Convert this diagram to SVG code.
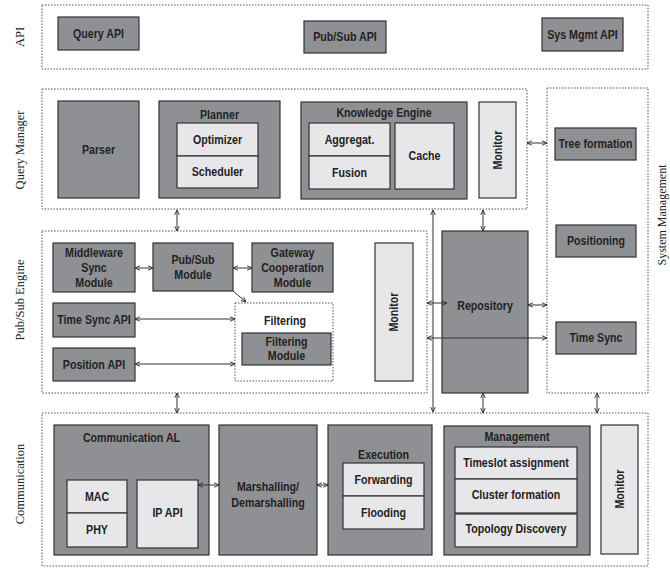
<svg xmlns="http://www.w3.org/2000/svg" width="670" height="568" viewBox="0 0 670 568">
<defs>
<marker id="ah" viewBox="0 0 8 8" refX="7.5" refY="4" markerWidth="6" markerHeight="6" markerUnits="userSpaceOnUse" orient="auto-start-reverse">
<path d="M1,1 L7.5,4 L1,7" fill="none" stroke="#333" stroke-width="1.3"/>
</marker>
<style>
.band{fill:none;stroke:#555;stroke-width:1;stroke-dasharray:1.5 1.5}
.dk{fill:#8f9093;stroke:#333;stroke-width:1.2}
.lt{fill:#e7e7e9;stroke:#333;stroke-width:1.2}
.t{font-family:"Liberation Sans",Arial,sans-serif;font-weight:bold;font-size:13px;fill:#222;text-anchor:middle;dominant-baseline:central}
.lab{font-family:"Liberation Serif","Times New Roman",serif;font-size:12.5px;fill:#222;text-anchor:middle;dominant-baseline:central}
.c{fill:none;stroke:#333;stroke-width:1;marker-start:url(#ah);marker-end:url(#ah)}
</style>
</defs>

<g id="labels">
<text class="lab" transform="translate(20,37) rotate(-90)">API</text>
<text class="lab" transform="translate(20,150) rotate(-90)">Query Manager</text>
<text class="lab" transform="translate(20,300) rotate(-90)">Pub/Sub Engine</text>
<text class="lab" transform="translate(20,484) rotate(-90)">Communication</text>
<text class="lab" transform="translate(662,215) rotate(-90)" style="font-size:12px">System Management</text>
</g>

<g id="bands">
<rect class="band" x="42" y="5" width="606" height="64"/>
<rect class="band" x="42" y="89" width="485" height="120"/>
<rect class="band" x="547" y="88" width="101" height="305"/>
<rect class="band" x="42" y="231" width="385" height="162"/>
<rect class="band" x="42" y="413" width="606" height="153"/>
</g>

<g id="query-api"><rect class="dk" x="58" y="17" width="81" height="33"/><text class="t" transform="translate(98.5,33.5) scale(0.82,1)">Query API</text></g>
<g id="pubsub-api"><rect class="dk" x="304" y="21" width="82" height="32"/><text class="t" transform="translate(345,37) scale(0.82,1)">Pub/Sub API</text></g>
<g id="sysmgmt-api"><rect class="dk" x="542" y="18" width="81" height="33"/><text class="t" transform="translate(582.5,34.5) scale(0.82,1)">Sys Mgmt API</text></g>

<g id="parser"><rect class="dk" x="58" y="101" width="81" height="97"/><text class="t" transform="translate(98.5,149.5) scale(0.82,1)">Parser</text></g>
<g id="planner"><rect class="dk" x="159" y="101" width="121" height="97"/><text class="t" transform="translate(219.5,115) scale(0.82,1)">Planner</text>
<rect class="lt" x="177" y="123" width="81" height="33"/><text class="t" transform="translate(217.5,139.5) scale(0.82,1)">Optimizer</text>
<rect class="lt" x="177" y="156" width="81" height="32"/><text class="t" transform="translate(217.5,172) scale(0.82,1)">Scheduler</text></g>
<g id="knowledge-engine"><rect class="dk" x="301" y="102" width="166" height="97"/><text class="t" transform="translate(384,113) scale(0.82,1)">Knowledge Engine</text>
<rect class="lt" x="309" y="123" width="81" height="33"/><text class="t" transform="translate(349.5,139.5) scale(0.82,1)">Aggregat.</text>
<rect class="lt" x="309" y="156" width="81" height="33"/><text class="t" transform="translate(349.5,172.5) scale(0.82,1)">Fusion</text>
<rect class="lt" x="395" y="123" width="59" height="66"/><text class="t" transform="translate(424.5,156) scale(0.82,1)">Cache</text></g>
<g id="monitor-qm"><rect class="lt" x="479" y="102" width="37" height="96"/><text class="t" transform="translate(497.5,150) rotate(-90) scale(0.82,1)">Monitor</text></g>

<g id="tree-formation"><rect class="dk" x="555" y="128" width="81" height="32"/><text class="t" transform="translate(595.5,144) scale(0.82,1)">Tree formation</text></g>
<g id="positioning"><rect class="dk" x="556" y="225" width="80" height="32"/><text class="t" transform="translate(596,241) scale(0.82,1)">Positioning</text></g>
<g id="time-sync"><rect class="dk" x="556" y="322" width="80" height="32"/><text class="t" transform="translate(596,338) scale(0.82,1)">Time Sync</text></g>

<g id="middleware-sync"><rect class="dk" x="53" y="243" width="82" height="49"/>
<text class="t" transform="translate(94,253) scale(0.82,1)">Middleware</text><text class="t" transform="translate(94,268) scale(0.82,1)">Sync</text><text class="t" transform="translate(94,283) scale(0.82,1)">Module</text></g>
<g id="pubsub-module"><rect class="dk" x="153" y="243" width="80" height="48"/>
<text class="t" transform="translate(193,260) scale(0.82,1)">Pub/Sub</text><text class="t" transform="translate(193,275) scale(0.82,1)">Module</text></g>
<g id="gateway"><rect class="dk" x="252" y="243" width="81" height="49"/>
<text class="t" transform="translate(292.5,253) scale(0.82,1)">Gateway</text><text class="t" transform="translate(292.5,268) scale(0.82,1)">Cooperation</text><text class="t" transform="translate(292.5,283) scale(0.82,1)">Module</text></g>
<g id="time-sync-api"><rect class="dk" x="53" y="303" width="82" height="34"/><text class="t" transform="translate(94,320) scale(0.82,1)">Time Sync API</text></g>
<g id="position-api"><rect class="dk" x="53" y="348" width="82" height="33"/><text class="t" transform="translate(94,364.5) scale(0.82,1)">Position API</text></g>
<g id="filtering"><rect class="band" x="235" y="303" width="98" height="78"/><text class="t" transform="translate(285,321) scale(0.82,1)">Filtering</text>
<rect class="dk" x="242" y="333" width="89" height="32"/><text class="t" transform="translate(286.5,342) scale(0.82,1)">Filtering</text><text class="t" transform="translate(286.5,356) scale(0.82,1)">Module</text></g>
<g id="monitor-ps"><rect class="lt" x="375" y="243" width="38" height="138"/><text class="t" transform="translate(394,312) rotate(-90) scale(0.82,1)">Monitor</text></g>
<g id="repository"><rect class="dk" x="442" y="231" width="86" height="162"/><text class="t" transform="translate(485,306) scale(0.82,1)">Repository</text></g>

<g id="communication-al"><rect class="dk" x="54" y="425" width="155" height="130"/><text class="t" transform="translate(131.5,438) scale(0.82,1)">Communication AL</text>
<rect class="lt" x="67" y="480" width="60" height="33"/><text class="t" transform="translate(97,497) scale(0.82,1)">MAC</text>
<rect class="lt" x="67" y="513" width="60" height="34"/><text class="t" transform="translate(97,530) scale(0.82,1)">PHY</text>
<rect class="lt" x="137" y="480" width="61" height="68"/><text class="t" transform="translate(167.5,513) scale(0.82,1)">IP API</text></g>
<g id="marshalling"><rect class="dk" x="219" y="425" width="98" height="130"/>
<text class="t" transform="translate(268,487) scale(0.82,1)">Marshalling/</text><text class="t" transform="translate(268,503) scale(0.82,1)">Demarshalling</text></g>
<g id="execution"><rect class="dk" x="328" y="425" width="104" height="130"/><text class="t" transform="translate(383.5,455) scale(0.82,1)">Execution</text>
<rect class="lt" x="343" y="463" width="81" height="33"/><text class="t" transform="translate(383.5,479.5) scale(0.82,1)">Forwarding</text>
<rect class="lt" x="343" y="496" width="81" height="33"/><text class="t" transform="translate(383.5,513) scale(0.82,1)">Flooding</text></g>
<g id="management"><rect class="dk" x="444" y="426" width="146" height="129"/><text class="t" transform="translate(517,437) scale(0.82,1)">Management</text>
<rect class="lt" x="455" y="447" width="122" height="32"/><text class="t" transform="translate(516,463) scale(0.82,1)">Timeslot assignment</text>
<rect class="lt" x="455" y="479" width="122" height="34"/><text class="t" transform="translate(516,495) scale(0.82,1)">Cluster formation</text>
<rect class="lt" x="455" y="514" width="122" height="33"/><text class="t" transform="translate(516,529) scale(0.82,1)">Topology Discovery</text></g>
<g id="monitor-comm"><rect class="lt" x="601" y="425" width="37" height="129"/><text class="t" transform="translate(619.5,489) rotate(-90) scale(0.82,1)">Monitor</text></g>

<g id="connectors">
<line class="c" x1="177" y1="210" x2="177" y2="231"/>
<line class="c" x1="433" y1="210" x2="433" y2="412"/>
<line class="c" x1="483" y1="210" x2="483" y2="231"/>
<line class="c" x1="527" y1="143" x2="547" y2="143"/>
<line class="c" x1="135" y1="268" x2="153" y2="268"/>
<line class="c" x1="233" y1="268" x2="252" y2="268"/>
<line x1="233" y1="291" x2="246" y2="302" fill="none" stroke="#333" stroke-width="1" marker-end="url(#ah)"/>
<line class="c" x1="135" y1="319" x2="235" y2="319"/>
<line class="c" x1="135" y1="364" x2="235" y2="364"/>
<line class="c" x1="427" y1="303" x2="447" y2="303"/>
<line class="c" x1="427" y1="338" x2="547" y2="338"/>
<line class="c" x1="528" y1="305" x2="547" y2="305"/>
<line class="c" x1="177" y1="393" x2="177" y2="413"/>
<line class="c" x1="483" y1="393" x2="483" y2="413"/>
<line class="c" x1="597" y1="393" x2="597" y2="413"/>
<line class="c" x1="198" y1="485" x2="219" y2="485"/>
<line class="c" x1="317" y1="485" x2="328" y2="485"/>
</g>
</svg>
